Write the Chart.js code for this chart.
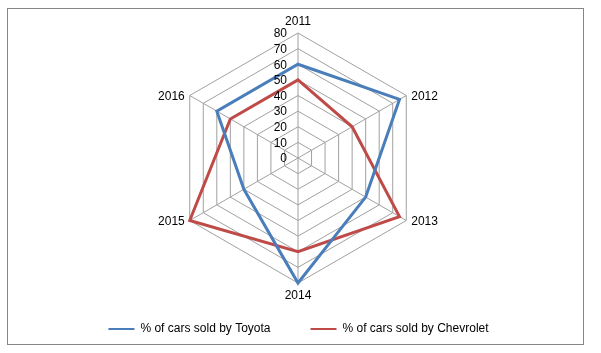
<!DOCTYPE html>
<html>
<head>
<meta charset="utf-8">
<script src="https://cdn.jsdelivr.net/npm/chart.js@4.4.0/dist/chart.umd.min.js"></script>
<style>
  html, body { margin: 0; padding: 0; background: #fff; }
  #wrap { position: relative; width: 601px; height: 353px; }
  #frame { position: absolute; left: 7px; top: 8px; width: 575px; height: 335px; border: 1px solid #868686; pointer-events: none; }
</style>
</head>
<body>
<div id="wrap">
  <canvas id="radar" width="601" height="353"></canvas>
  <div id="frame"></div>
</div>
<script>
// --- data ---
const years = ['2011', '2012', '2013', '2014', '2015', '2016'];
const toyota = [60, 75, 50, 80, 40, 60];
const chevrolet = [50, 40, 75, 60, 80, 50];
const seriesNames = ['% of cars sold by Toyota', '% of cars sold by Chevrolet'];
const tickMin = 0, tickMax = 80, tickStep = 10;

const FONT = '"Liberation Sans", Arial, sans-serif';

// axis + category labels drawn Excel style (right aligned ticks, 0 included)
const radarText = {
    id: 'radarText',
    afterDraw(chart) {
        const scale = chart.scales.r;
        const ctx = chart.ctx;
        ctx.save();
        ctx.font = '12px ' + FONT;
        ctx.fillStyle = '#000';

        ctx.textAlign = 'right';
        ctx.textBaseline = 'middle';
        scale.ticks.forEach(t => {
            const d = scale.getDistanceFromCenterForValue(t.value);
            ctx.fillText(t.label, scale.xCenter - 11, scale.yCenter - d + 1);
        });

        chart.data.labels.forEach((lab, i) => {
            const p = scale.getPointPositionForValue(i, scale.max);
            const dx = p.x - scale.xCenter;
            if (Math.abs(dx) < 1) {
                ctx.textAlign = 'center';
                if (p.y < scale.yCenter) {
                    ctx.textBaseline = 'bottom';
                    ctx.fillText(lab, p.x, p.y - 5);
                } else {
                    ctx.textBaseline = 'top';
                    ctx.fillText(lab, p.x, p.y + 7);
                }
            } else {
                ctx.textAlign = dx > 0 ? 'left' : 'right';
                ctx.textBaseline = 'middle';
                ctx.fillText(lab, p.x + (dx > 0 ? 5 : -5), p.y + 1);
            }
        });
        ctx.restore();
    }
};

new Chart(document.getElementById('radar'), {
    type: 'radar',
    data: {
        labels: years,
        datasets: [
            { label: seriesNames[0], data: toyota, borderColor: '#4A7EBB', backgroundColor: '#4A7EBB', borderWidth: 3, pointRadius: 0, fill: false },
            { label: seriesNames[1], data: chevrolet, borderColor: '#BE4B48', backgroundColor: '#BE4B48', borderWidth: 3, pointRadius: 0, fill: false }
        ]
    },
    options: {
        responsive: false,
        animation: false,
        layout: { padding: { top: 33, bottom: 8, left: 48, right: 52 } },
        plugins: {
            tooltip: { enabled: false },
            legend: {
                position: 'bottom',
                labels: {
                    usePointStyle: true,
                    pointStyle: 'line',
                    pointStyleWidth: 26,
                    padding: 40,
                    color: '#000',
                    font: { family: FONT, size: 12 },
                    // thinner legend lines than the data lines
                    generateLabels: (chart) => Chart.defaults.plugins.legend.labels.generateLabels(chart)
                        .map(item => Object.assign(item, { lineWidth: 2 }))
                }
            }
        },
        scales: {
            r: {
                min: tickMin,
                max: tickMax,
                ticks: { stepSize: tickStep, display: false },
                pointLabels: { display: false },
                grid: { color: '#a0a0a0', lineWidth: 1 },
                angleLines: { color: '#a0a0a0', lineWidth: 1 }
            }
        }
    },
    plugins: [radarText]
});
</script>
</body>
</html>
